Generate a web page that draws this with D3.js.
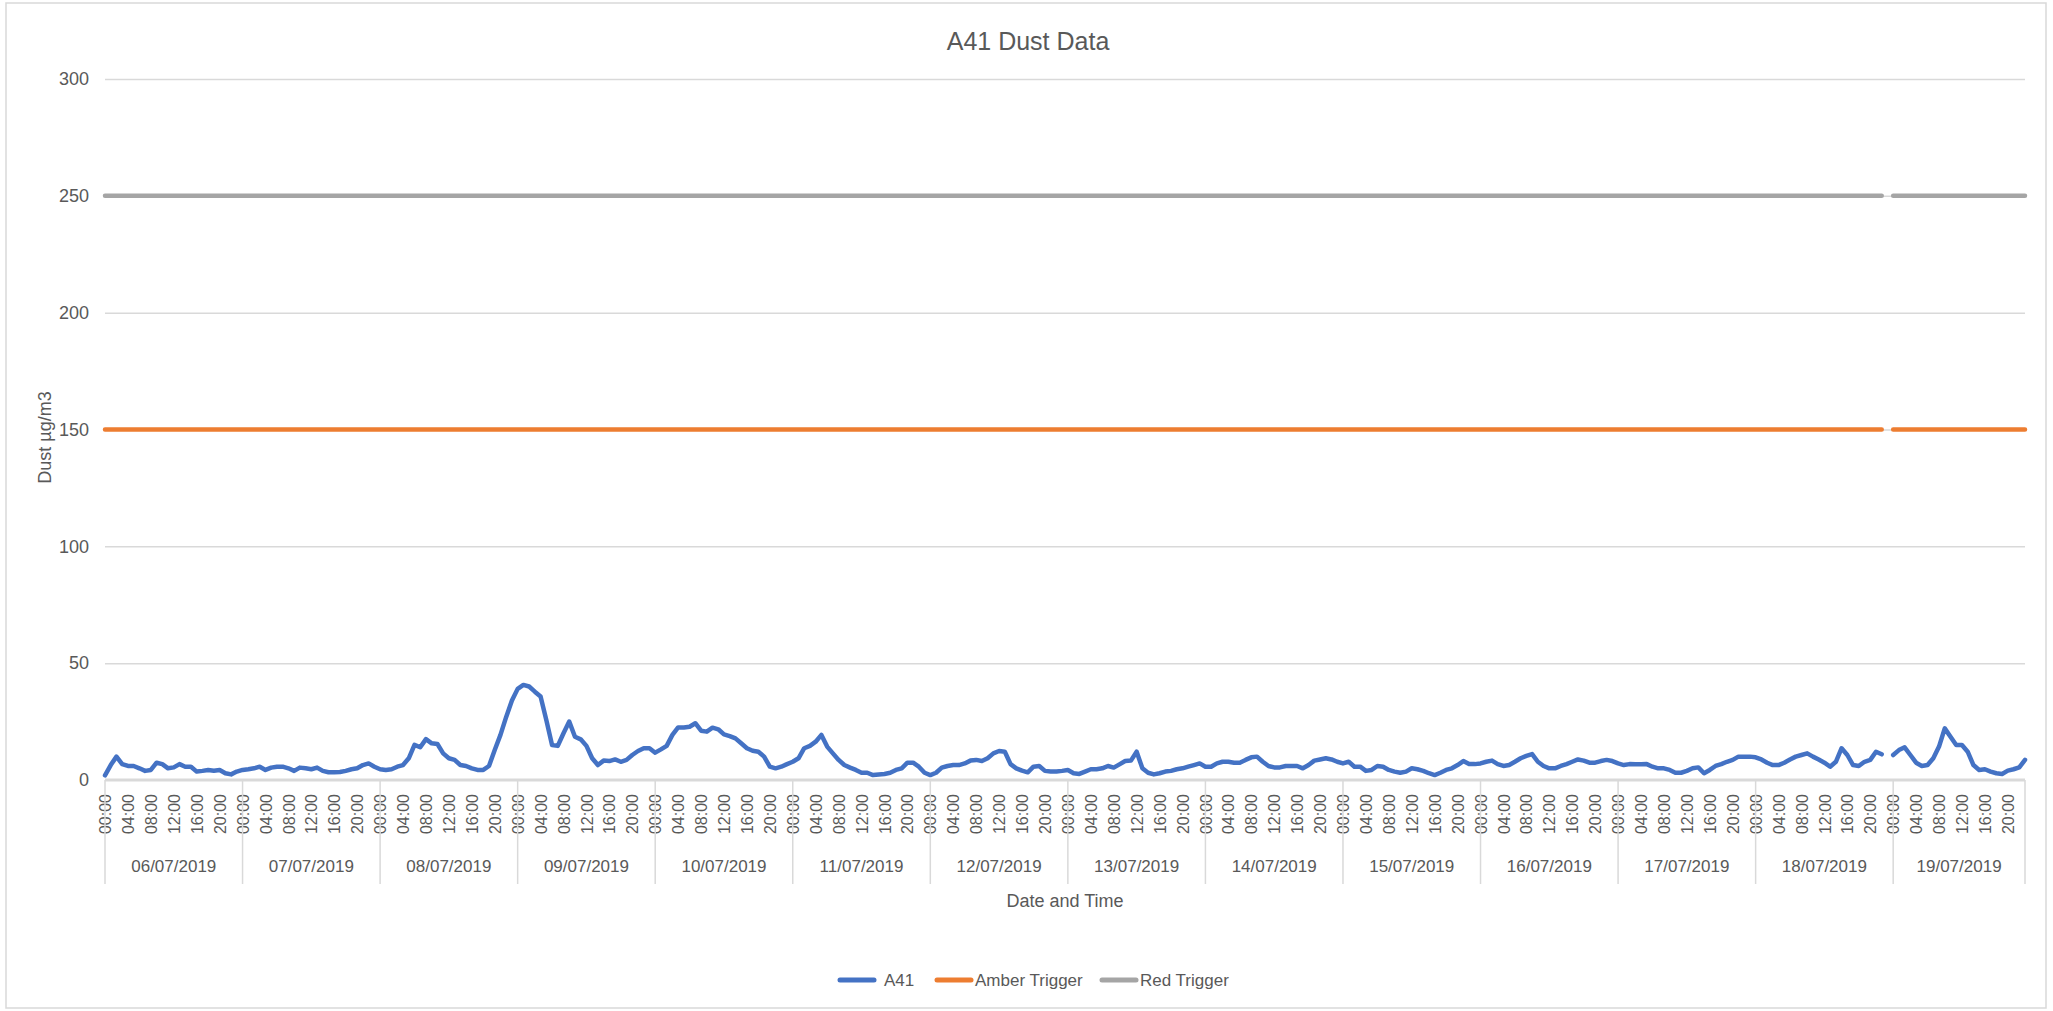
<!DOCTYPE html>
<html>
<head>
<meta charset="utf-8">
<script src="https://cdn.jsdelivr.net/npm/d3@7"></script>
<style>
  body { margin: 0; background: #fff; }
  text { font-family: "Liberation Sans", Arial, sans-serif; fill: #595959; }
</style>
</head>
<body>
<svg id="chart" width="2053" height="1011"></svg>
<script>
const days = ["06/07/2019", "07/07/2019", "08/07/2019", "09/07/2019", "10/07/2019", "11/07/2019", "12/07/2019",
  "13/07/2019", "14/07/2019", "15/07/2019", "16/07/2019", "17/07/2019", "18/07/2019", "19/07/2019"];
const hours = ["00:00", "01:00", "02:00", "03:00", "04:00", "05:00", "06:00", "07:00", "08:00", "09:00", "10:00", "11:00",
  "12:00", "13:00", "14:00", "15:00", "16:00", "17:00", "18:00", "19:00", "20:00", "21:00", "22:00", "23:00"];
const hourLabels = ["00:00", "04:00", "08:00", "12:00", "16:00", "20:00"];
const yTicks = [0, 50, 100, 150, 200, 250, 300];

// hourly A41 readings, one row per day (null = no reading)
const a41 = [
  2, 6.4, 10, 6.8, 6, 6, 5, 3.9, 4.3, 7.4, 6.8, 5, 5.4, 6.8, 5.7, 5.7, 3.6, 3.9, 4.3, 4, 4.3, 2.9, 2.4, 3.6,
  4.3, 4.6, 5, 5.7, 4.3, 5.3, 5.7, 5.7, 5, 3.9, 5.3, 5, 4.6, 5.3, 3.9, 3.3, 3.3, 3.4, 3.9, 4.6, 5, 6.4, 7.1, 5.7,
  4.6, 4.3, 4.6, 5.7, 6.4, 9.3, 15, 14, 17.5, 15.7, 15.4, 11.4, 9.3, 8.6, 6.4, 6, 5, 4.3, 4.3, 6, 12.8, 19.3, 27, 34,
  39, 40.7, 40, 37.8, 35.7, 25.7, 15, 14.6, 20, 25, 18.5, 17.4, 14.6, 9.3, 6.4, 8.3, 8.1, 8.8, 7.8, 8.6, 10.7, 12.4, 13.6, 13.6,
  11.7, 13.1, 14.6, 19.3, 22.5, 22.5, 22.8, 24.3, 21.1, 20.7, 22.4, 21.7, 19.5, 18.8, 17.8, 15.7, 13.6, 12.5, 12.1, 10, 5.7, 5, 5.7, 6.8,
  7.8, 9.3, 13.6, 14.6, 16.4, 19.3, 14.3, 11.4, 8.6, 6.4, 5.3, 4.3, 3.1, 3.1, 2.1, 2.4, 2.6, 3.1, 4.3, 5, 7.4, 7.4, 5.7, 3.1,
  2.1, 3.1, 5.3, 6, 6.4, 6.4, 7.1, 8.3, 8.6, 8.1, 9.3, 11.4, 12.4, 12.1, 6.8, 5, 4, 3.3, 5.7, 6, 3.9, 3.6, 3.6, 3.9,
  4.3, 2.9, 2.6, 3.6, 4.6, 4.6, 5, 6, 5.3, 6.7, 8.1, 8.3, 12.1, 5, 3.1, 2.4, 2.9, 3.6, 3.9, 4.6, 5, 5.7, 6.4, 7.1,
  5.7, 5.7, 7.1, 7.8, 7.8, 7.4, 7.4, 8.6, 9.7, 10, 7.8, 6, 5.4, 5.4, 6, 6, 6, 5, 6.4, 8.3, 8.8, 9.3, 8.8, 7.8,
  7.1, 7.8, 5.7, 5.7, 3.9, 4.3, 6, 5.7, 4.3, 3.6, 3.1, 3.6, 5, 4.6, 3.9, 2.9, 2.1, 3.1, 4.3, 5, 6.4, 8.1, 6.8, 6.8,
  7.1, 7.8, 8.3, 6.8, 6, 6.4, 7.8, 9.3, 10.3, 11.1, 7.8, 6, 5, 5, 6, 6.8, 7.8, 8.8, 8.3, 7.4, 7.4, 8.1, 8.6, 8.1,
  7.1, 6.4, 6.8, 6.7, 6.7, 6.8, 5.7, 5, 5, 4.3, 3.1, 3.1, 3.9, 5, 5.4, 2.9, 4.3, 6, 6.8, 7.8, 8.6, 10, 10, 10,
  9.7, 8.8, 7.4, 6.4, 6.4, 7.4, 8.8, 10, 10.7, 11.4, 10, 8.8, 7.4, 5.7, 7.8, 13.6, 10.7, 6.4, 6, 7.8, 8.6, 12.1, 11, null,
  10.7, 12.8, 14, 10.7, 7.4, 6, 6.4, 9.3, 14.3, 22.1, 18.5, 15, 15, 12.1, 6.4, 4.3, 4.6, 3.6, 2.9, 2.6, 4, 4.6, 5.4, 8.6
];
const amberLevel = 150;
const redLevel = 250;

const series = [
  {name: "A41", color: "#4472c4", value: v => v},
  {name: "Amber Trigger", color: "#ed7d31", value: v => v == null ? null : amberLevel},
  {name: "Red Trigger", color: "#a5a5a5", value: v => v == null ? null : redLevel}
];

const margin = {top: 79, right: 28, bottom: 231, left: 105};
const width = 2053 - margin.left - margin.right;
const height = 1011 - margin.top - margin.bottom;

const categories = days.flatMap(d => hours.map(h => d + " " + h));

const svg = d3.select("#chart");

svg.append("rect")
  .attr("x", 6).attr("y", 3)
  .attr("width", 2040).attr("height", 1005)
  .attr("fill", "#fff")
  .attr("stroke", "#d9d9d9")
  .attr("stroke-width", 1.5);

const g = svg.append("g")
  .attr("transform", `translate(${margin.left},${margin.top})`);

const x = d3.scalePoint()
  .domain(categories)
  .range([0, width]);

const y = d3.scaleLinear()
  .domain([0, 300])
  .range([height, 0]);

// gridlines + y labels
const yAxis = g.append("g")
  .call(d3.axisLeft(y).tickValues(yTicks).tickSize(-width).tickPadding(16));
yAxis.select(".domain").remove();
yAxis.selectAll("line").attr("stroke", "#d9d9d9").attr("stroke-width", 1.5);
yAxis.selectAll("text").attr("font-size", 18).style("fill", "#595959");
yAxis.selectAll(".tick").filter(d => d === 0).select("line").remove();

// category axis line
g.append("line")
  .attr("x1", 0).attr("x2", width)
  .attr("y1", height).attr("y2", height)
  .attr("stroke", "#d9d9d9").attr("stroke-width", 3);

// hour labels
const xAxis = g.append("g")
  .attr("transform", `translate(0,${height})`)
  .call(d3.axisBottom(x)
    .tickValues(categories.filter(c => hourLabels.includes(c.slice(11))))
    .tickFormat(c => c.slice(11))
    .tickSize(0));
xAxis.select(".domain").remove();
xAxis.selectAll("text")
  .attr("transform", "rotate(-90)")
  .attr("text-anchor", "end")
  .attr("x", -14)
  .attr("y", 0)
  .attr("dy", "0.35em")
  .attr("font-size", 16)
  .style("fill", "#595959");

// day separators and date labels
const dayStarts = days.map(d => x(d + " 00:00")).concat([width]);
g.selectAll(".day-sep")
  .data(dayStarts)
  .enter()
  .append("line")
  .attr("class", "day-sep")
  .attr("x1", d => d).attr("x2", d => d)
  .attr("y1", height).attr("y2", height + 104)
  .attr("stroke", "#d9d9d9").attr("stroke-width", 1.5);

g.selectAll(".day-label")
  .data(days)
  .enter()
  .append("text")
  .attr("class", "day-label")
  .attr("x", (d, i) => (dayStarts[i] + dayStarts[i + 1]) / 2)
  .attr("y", height + 92)
  .attr("text-anchor", "middle")
  .attr("font-size", 17)
  .text(d => d);

// series
const line = d3.line()
  .defined(d => d.v != null)
  .x(d => x(d.c))
  .y(d => y(d.v));

series.slice().reverse().forEach(s => {
  g.append("path")
    .datum(categories.map((c, i) => ({c, v: s.value(a41[i])})))
    .attr("fill", "none")
    .attr("stroke", s.color)
    .attr("stroke-width", 4.5)
    .attr("stroke-linejoin", "round")
    .attr("stroke-linecap", "round")
    .attr("d", line);
});

// titles
svg.append("text")
  .attr("x", 1028).attr("y", 50)
  .attr("text-anchor", "middle")
  .attr("font-size", 25)
  .text("A41 Dust Data");

svg.append("text")
  .attr("transform", `translate(51,${margin.top + height / 2 + 8}) rotate(-90)`)
  .attr("text-anchor", "middle")
  .attr("font-size", 18)
  .text("Dust µg/m3");

svg.append("text")
  .attr("x", margin.left + width / 2).attr("y", 907)
  .attr("text-anchor", "middle")
  .attr("font-size", 18)
  .text("Date and Time");

// legend
const legendX = [838, 935, 1100];
const legend = svg.append("g").attr("transform", "translate(0,980)");
series.forEach((s, i) => {
  legend.append("line")
    .attr("x1", legendX[i] + 2).attr("x2", legendX[i] + 36)
    .attr("y1", 0).attr("y2", 0)
    .attr("stroke", s.color).attr("stroke-width", 5)
    .attr("stroke-linecap", "round");
  legend.append("text")
    .attr("x", legendX[i] + (i === 0 ? 46 : 40))
    .attr("y", 0).attr("dy", "0.35em")
    .attr("font-size", 17)
    .text(s.name);
});
</script>
</body>
</html>
